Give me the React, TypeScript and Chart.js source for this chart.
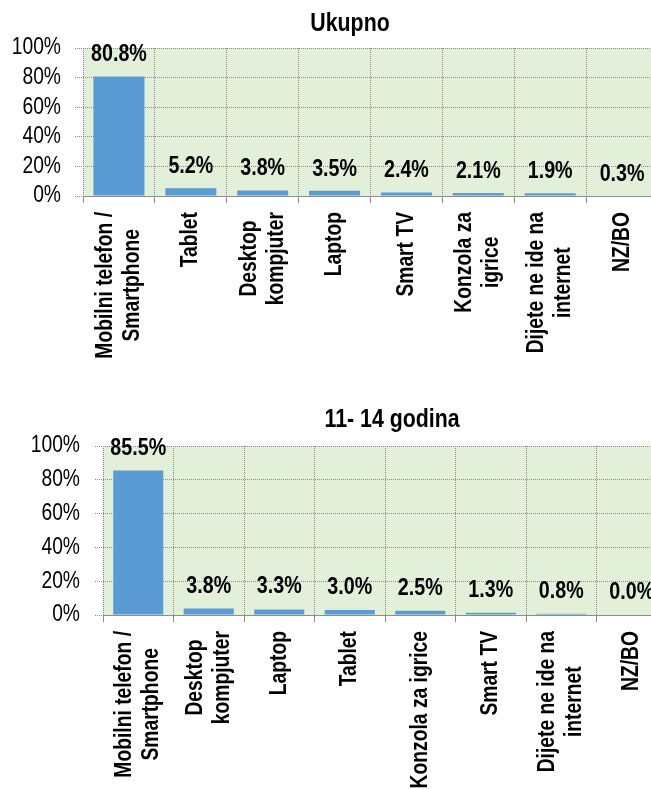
import React, { useEffect, useRef } from "react";
import { Chart, registerables } from "chart.js";

Chart.register(...registerables);

const FONT = "'Liberation Sans', Arial, sans-serif";
const NARROW = 0.82; // horizontal condensing to imitate a narrow face

// ---- data ----
const totalTitle = "Ukupno";
const totalCategories: string[][] = [
  ["Mobilni telefon /", "Smartphone"],
  ["Tablet"],
  ["Desktop", "kompjuter"],
  ["Laptop"],
  ["Smart TV"],
  ["Konzola za", "igrice"],
  ["Dijete ne ide na", "internet"],
  ["NZ/BO"],
];
const totalValues = [80.8, 5.2, 3.8, 3.5, 2.4, 2.1, 1.9, 0.3];

const ageTitle = "11- 14 godina";
const ageCategories: string[][] = [
  ["Mobilni telefon /", "Smartphone"],
  ["Desktop", "kompjuter"],
  ["Laptop"],
  ["Tablet"],
  ["Konzola za igrice"],
  ["Smart TV"],
  ["Dijete ne ide na", "internet"],
  ["NZ/BO"],
];
const ageValues = [85.5, 3.8, 3.3, 3.0, 2.5, 1.3, 0.8, 0.0];

const yMin = 0;
const yMax = 100;
const yStep = 20;

// ---- styles ----
const BAR_COLOR = "#5B9BD5";
const PLOT_BG = "#E2F0D9";
const GRID_COLOR = "#8a8a8a";

type Layout = {
  top: number;
  width: number;
  height: number;
  areaLeft: number;
  areaRight: number;
  areaTop: number;
  areaBottom: number;
  titleCenter: number;
  labelGap: number;
  valueGap: number;
  yPad: number;
};

function narrowText(
  ctx: CanvasRenderingContext2D,
  text: string,
  x: number,
  y: number,
  align: CanvasTextAlign,
  baseline: CanvasTextBaseline
) {
  ctx.save();
  ctx.translate(x, y);
  ctx.scale(NARROW, 1);
  ctx.textAlign = align;
  ctx.textBaseline = baseline;
  ctx.fillText(text, 0, 0);
  ctx.restore();
}

function BarPanel({
  title,
  categories,
  values,
  layout,
}: {
  title: string;
  categories: string[][];
  values: number[];
  layout: Layout;
}) {
  const ref = useRef<HTMLCanvasElement | null>(null);

  useEffect(() => {
    const canvas = ref.current;
    if (!canvas) return;
    const L = layout;

    const bgPlugin = {
      id: "plotBg",
      beforeDraw(chart: any) {
        const { ctx, chartArea } = chart;
        ctx.save();
        ctx.fillStyle = PLOT_BG;
        ctx.fillRect(chartArea.left, chartArea.top, chartArea.right - chartArea.left, chartArea.bottom - chartArea.top);
        ctx.restore();
      },
    };

    const valuePlugin = {
      id: "valueLabels",
      afterDatasetsDraw(chart: any) {
        const { ctx } = chart;
        const meta = chart.getDatasetMeta(0);
        ctx.save();
        ctx.font = `bold 24px ${FONT}`;
        ctx.fillStyle = "#000";
        meta.data.forEach((bar: any, i: number) => {
          narrowText(ctx, values[i].toFixed(1) + "%", bar.x, bar.y - L.valueGap, "center", "alphabetic");
        });
        ctx.restore();
      },
    };

    const textPlugin = {
      id: "axisText",
      afterDraw(chart: any) {
        const { ctx, chartArea } = chart;
        const xs = chart.scales.x;
        const ys = chart.scales.y;
        ctx.save();
        ctx.fillStyle = "#000";

        // title
        ctx.font = `bold 26px ${FONT}`;
        narrowText(ctx, title, L.width / 2, L.titleCenter, "center", "middle");

        // y tick labels
        ctx.font = `23.5px ${FONT}`;
        ys.ticks.forEach((t: any) => {
          const y = ys.getPixelForValue(t.value);
          narrowText(ctx, `${t.value}%`, chartArea.left - 8 - L.yPad, y, "right", "middle");
        });

        // x category labels (rotated, multi-line, centred)
        const base = chartArea.bottom + L.labelGap;
        const lh = 27;
        ctx.font = `bold 23.5px ${FONT}`;
        categories.forEach((lines, i) => {
          const x = xs.getPixelForValue(i);
          const maxW = Math.max(...lines.map((l) => ctx.measureText(l).width)) * NARROW;
          ctx.save();
          ctx.translate(x, base);
          ctx.rotate(-Math.PI / 2);
          lines.forEach((l, j) => {
            narrowText(ctx, l, -maxW / 2, (j - (lines.length - 1) / 2) * lh, "center", "middle");
          });
          ctx.restore();
        });
        ctx.restore();
      },
    };

    const chart = new Chart(canvas, {
      type: "bar",
      data: {
        labels: categories.map((c) => c.join(" ")),
        datasets: [
          {
            data: values,
            backgroundColor: BAR_COLOR,
            borderWidth: 0,
            barPercentage: 0.71,
            categoryPercentage: 1,
          },
        ],
      },
      options: {
        responsive: false,
        animation: false,
        devicePixelRatio: 1,
        layout: { padding: { left: 0, right: L.width - L.areaRight, top: L.areaTop, bottom: 0 } },
        plugins: {
          legend: { display: false },
          tooltip: { enabled: false },
          title: { display: false },
        },
        scales: {
          x: {
            type: "category",
            offset: true,
            grid: {
              display: true,
              offset: true,
              color: GRID_COLOR,
              lineWidth: 1,
              drawTicks: true,
              tickLength: 7,
              tickColor: "#8c8c8c",
              tickBorderDash: [],
            },
            border: { display: true, color: "#8c8c8c", width: 1, dash: [1, 1] },
            ticks: { display: false },
            afterFit(scale: any) {
              scale.height = L.height - L.areaBottom;
            },
          },
          y: {
            min: yMin,
            max: yMax,
            ticks: {
              display: false,
              autoSkip: false,
              stepSize: yStep,
            },
            grid: {
              color: GRID_COLOR,
              lineWidth: 1,
              tickLength: 8,
              tickBorderDash: [1, 1],
            },
            border: { display: false, dash: [1, 1] },
            afterFit(scale: any) {
              scale.width = L.areaLeft;
            },
          },
        },
      },
      plugins: [bgPlugin, valuePlugin, textPlugin],
    } as any);

    return () => chart.destroy();
  }, [title, categories, values, layout]);

  return (
    <canvas
      ref={ref}
      width={layout.width}
      height={layout.height}
      style={{
        position: "absolute",
        left: 0,
        top: layout.top,
        width: layout.width,
        height: layout.height,
        display: "block",
      }}
    />
  );
}

const topLayout: Layout = {
  top: 0,
  width: 700,
  height: 392,
  areaLeft: 83,
  areaRight: 658,
  areaTop: 48,
  areaBottom: 196,
  titleCenter: 24,
  labelGap: 16,
  valueGap: 15,
  yPad: 14,
};

const bottomLayout: Layout = {
  top: 395,
  width: 784,
  height: 394,
  areaLeft: 103,
  areaRight: 667,
  areaTop: 51,
  areaBottom: 220,
  titleCenter: 25,
  labelGap: 16,
  valueGap: 16,
  yPad: 15,
};

export default function App() {
  return (
    <div
      style={{
        position: "fixed",
        left: 0,
        top: 0,
        width: 651,
        height: 789,
        overflow: "hidden",
        background: "#fff",
      }}
    >
      <BarPanel title={totalTitle} categories={totalCategories} values={totalValues} layout={topLayout} />
      <BarPanel title={ageTitle} categories={ageCategories} values={ageValues} layout={bottomLayout} />
    </div>
  );
}
